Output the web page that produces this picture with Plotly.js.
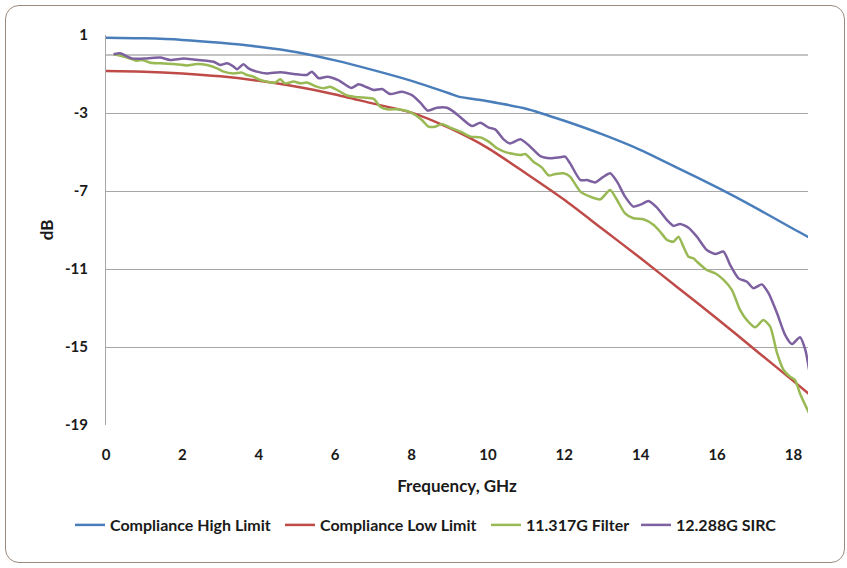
<!DOCTYPE html>
<html>
<head>
<meta charset="utf-8">
<script src="https://cdn.plot.ly/plotly-3.0.1.min.js"></script>
<style>
  html, body { margin: 0; padding: 0; background: #ffffff; }
  #wrap { position: relative; width: 847px; height: 568px; }
  #chart { position: absolute; left: 0; top: 0; width: 847px; height: 568px; }
  #frame { position: absolute; left: 5px; top: 5px; width: 838px; height: 556px;
           border: 1px solid #9a8a7e; border-radius: 14px; pointer-events: none; }
</style>
</head>
<body>
<div id="wrap">
  <div id="chart"></div>
  <div id="frame"></div>
</div>
<script>
// Compliance High Limit
const highFreq = [0, 1, 2, 3, 4, 5, 6, 7, 8, 9, 9.23, 10, 11, 12, 13, 14, 15, 16, 17, 18, 18.4];
const highDb   = [0.86, 0.83, 0.75, 0.60, 0.40, 0.12, -0.30, -0.80, -1.35, -2.00, -2.16, -2.40, -2.78, -3.40, -4.10, -4.90, -5.85, -6.82, -7.85, -8.95, -9.37];

// Compliance Low Limit
const lowFreq = [0, 1, 2, 3, 4, 5, 6, 7, 8, 9, 10, 11, 12, 13, 14, 15, 16, 17, 18, 18.4];
const lowDb   = [-0.85, -0.88, -0.97, -1.12, -1.35, -1.65, -2.05, -2.52, -2.98, -3.78, -4.80, -6.10, -7.45, -8.95, -10.45, -12.00, -13.55, -15.15, -16.75, -17.40];

// 11.317G Filter
const filterFreq = [0.20, 0.55, 0.81, 0.94, 1.16, 1.42, 1.77, 2.12, 2.38, 2.64, 2.91, 3.08, 3.34, 3.56, 3.69, 3.86, 4.04, 4.21, 4.43, 4.56, 4.69, 4.91, 5.09, 5.26, 5.52, 5.70, 5.87, 6.05, 6.31, 6.48, 6.74, 7.01, 7.18, 7.36, 7.62, 7.88, 8.10, 8.27, 8.45, 8.62, 8.80, 9.01, 9.28, 9.54, 9.80, 10.02, 10.24, 10.50, 10.85, 10.98, 11.19, 11.41, 11.59, 11.76, 11.98, 12.15, 12.42, 12.68, 12.94, 13.20, 13.38, 13.59, 13.81, 14.07, 14.34, 14.51, 14.69, 14.86, 14.99, 15.12, 15.25, 15.38, 15.47, 15.73, 15.95, 16.17, 16.39, 16.60, 16.78, 17.00, 17.21, 17.39, 17.57, 17.74, 17.91, 18.04, 18.17, 18.41];
const filterDb   = [0.01, -0.15, -0.32, -0.28, -0.42, -0.45, -0.49, -0.56, -0.49, -0.54, -0.71, -0.88, -0.97, -0.93, -1.05, -1.14, -1.31, -1.39, -1.44, -1.27, -1.48, -1.39, -1.48, -1.44, -1.65, -1.73, -1.65, -1.82, -2.10, -2.16, -2.21, -2.28, -2.68, -2.81, -2.81, -2.90, -3.10, -3.36, -3.70, -3.70, -3.56, -3.75, -3.96, -4.21, -4.25, -4.47, -4.81, -5.03, -5.15, -5.10, -5.50, -5.79, -6.20, -6.13, -6.09, -6.26, -7.03, -7.29, -7.43, -6.95, -7.46, -8.15, -8.40, -8.45, -8.74, -9.09, -9.51, -9.60, -9.34, -9.86, -10.37, -10.45, -10.62, -11.05, -11.22, -11.56, -12.08, -13.10, -13.62, -13.99, -13.62, -13.96, -15.32, -16.18, -16.52, -16.69, -17.38, -18.40];

// 12.288G SIRC
const sircFreq = [0.20, 0.37, 0.68, 1.07, 1.42, 1.68, 2.03, 2.29, 2.64, 2.82, 2.99, 3.17, 3.34, 3.43, 3.60, 3.73, 3.95, 4.21, 4.56, 4.91, 5.26, 5.39, 5.57, 5.79, 6.08, 6.42, 6.61, 6.83, 7.01, 7.23, 7.44, 7.75, 8.01, 8.23, 8.42, 8.66, 8.93, 9.10, 9.28, 9.58, 9.80, 10.02, 10.19, 10.41, 10.58, 10.85, 11.06, 11.37, 11.63, 11.89, 12.02, 12.15, 12.42, 12.59, 12.81, 13.03, 13.20, 13.38, 13.59, 13.81, 14.03, 14.20, 14.42, 14.69, 14.86, 15.03, 15.25, 15.47, 15.73, 15.95, 16.17, 16.34, 16.56, 16.78, 16.95, 17.17, 17.35, 17.57, 17.78, 17.96, 18.17, 18.31, 18.41];
const sircDb   = [0.01, 0.06, -0.20, -0.20, -0.16, -0.28, -0.21, -0.25, -0.32, -0.37, -0.54, -0.45, -0.62, -0.76, -0.50, -0.71, -0.88, -0.97, -0.91, -1.00, -1.05, -0.88, -1.22, -1.14, -1.31, -1.72, -1.53, -1.68, -1.82, -1.77, -2.03, -1.91, -2.08, -2.47, -2.88, -2.73, -2.73, -2.93, -3.22, -3.67, -3.50, -3.75, -3.84, -4.35, -4.56, -4.35, -4.64, -5.21, -5.32, -5.27, -5.24, -5.58, -6.44, -6.44, -6.56, -6.26, -6.09, -6.52, -7.29, -7.80, -7.67, -7.51, -7.84, -8.49, -8.79, -8.69, -8.88, -9.34, -10.03, -10.23, -10.11, -10.79, -11.48, -11.65, -11.99, -11.79, -12.25, -13.27, -14.38, -14.85, -14.50, -15.15, -16.18];

const xTickVals = [0, 2, 4, 6, 8, 10, 12, 14, 16, 18];
const yTickVals = [1, -3, -7, -11, -15, -19];

const seriesNames = ['Compliance High Limit', 'Compliance Low Limit', '11.317G Filter', '12.288G SIRC'];
const seriesColors = ['#4A7EBB', '#BE4B48', '#98B954', '#7D60A0'];

const FONT = 'Lato, "Open Sans", "DejaVu Sans", sans-serif';
const TXT = '#1a1a1a';

function mk(x, y, i, legendId) {
  return {
    type: 'scatter', mode: 'lines', x: x, y: y, name: seriesNames[i],
    line: { color: seriesColors[i], width: 2.5, shape: 'spline', smoothing: 0.6 },
    legend: legendId, hoverinfo: 'skip'
  };
}

const data = [
  mk(highFreq, highDb, 0, 'legend'),
  mk(lowFreq, lowDb, 1, 'legend2'),
  mk(filterFreq, filterDb, 2, 'legend3'),
  mk(sircFreq, sircDb, 3, 'legend4')
];

const plotL = 106, plotR = 808, plotT = 35, plotB = 425;
const pw = plotR - plotL, ph = plotB - plotT;
function px2paperX(px) { return (px - plotL) / pw; }
const legY = (plotB - 525) / ph;

function leg(px) {
  return {
    x: px2paperX(px), y: legY, xanchor: 'left', yanchor: 'middle',
    orientation: 'h', bgcolor: 'rgba(0,0,0,0)', borderwidth: 0,
    font: { family: FONT, size: 16, color: TXT, weight: 'bold' }
  };
}

const layout = {
  width: 847, height: 568,
  margin: { l: plotL, r: 847 - plotR, t: plotT, b: 568 - plotB, pad: 0 },
  paper_bgcolor: 'rgba(0,0,0,0)', plot_bgcolor: '#ffffff',
  font: { family: FONT, size: 15, color: TXT },
  showlegend: true,
  legend: leg(70), legend2: leg(280), legend3: leg(486), legend4: leg(636),
  xaxis: {
    range: [0, 18.38], tickvals: xTickVals, ticktext: xTickVals.map(String),
    showgrid: false, zeroline: false, showline: false, ticks: '',
    ticklabelstandoff: 19,
    tickfont: { family: FONT, size: 15, color: TXT, weight: 'bold' },
    title: { text: 'Frequency, GHz', standoff: 18, font: { family: FONT, size: 17, color: TXT, weight: 'bold' } },
    automargin: false
  },
  yaxis: {
    range: [-19, 1], tickvals: yTickVals, ticktext: yTickVals.map(String),
    showgrid: true, gridcolor: '#a6a6a6', gridwidth: 1,
    zeroline: true, zerolinecolor: '#c4c4c4', zerolinewidth: 2,
    showline: true, linecolor: '#a6a6a6', linewidth: 1, ticks: '',
    ticklabelstandoff: 14,
    tickfont: { family: FONT, size: 15, color: TXT, weight: 'bold' },
    title: { text: 'dB', standoff: 7, font: { family: FONT, size: 17, color: TXT, weight: 'bold' } },
    automargin: false
  }
};

Plotly.newPlot('chart', data, layout, { staticPlot: true, displayModeBar: false });
</script>
</body>
</html>
